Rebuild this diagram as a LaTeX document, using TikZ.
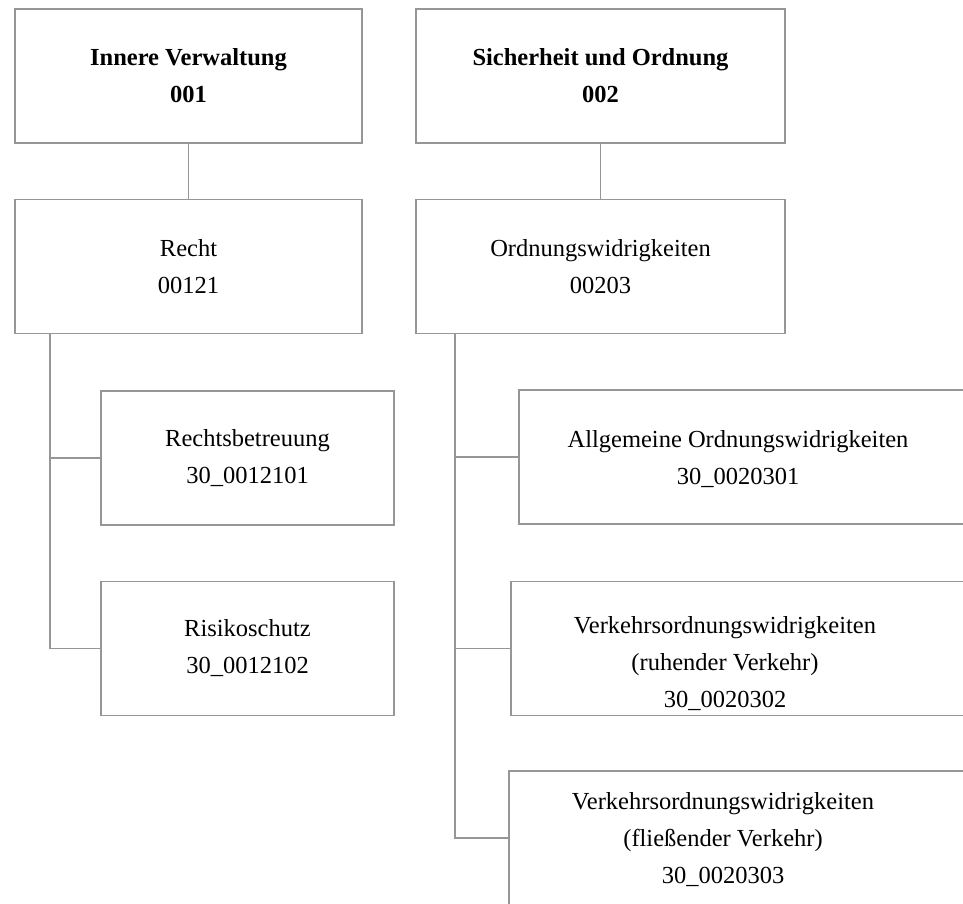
\documentclass[tikz,border=0pt]{standalone}
\usepackage{fontspec}
\setmainfont{Liberation Serif}
\definecolor{linegray}{RGB}{150,150,150}

\begin{document}
\begin{tikzpicture}[x=1pt, y=-1pt,
    box/.style={draw=linegray, line width=1.7pt, rectangle, inner sep=0pt,
        align=center, minimum height=134pt, font=\fontsize{24.5}{37}\selectfont},
    txt/.style={align=center, inner sep=0pt, font=\fontsize{24.5}{37}\selectfont},
    link/.style={draw=linegray, line width=1.7pt}]
    \useasboundingbox (0,0) rectangle (963,903);
    \clip (0,0) rectangle (963,903);

    % Top level
    \node[box, minimum width=347pt] (iv) at (188.5,76) {\textbf{Innere Verwaltung}\\\textbf{001}};
    \node[box, minimum width=369pt] (so) at (600.5,76) {\textbf{Sicherheit und Ordnung}\\\textbf{002}};

    % Second level
    \node[box, minimum width=347pt] (recht) at (188.5,266.5) {Recht\\00121};
    \node[box, minimum width=369pt] (owi) at (600.5,266.5) {Ordnungswidrigkeiten\\00203};
    \draw[link] (iv) -- (recht);
    \draw[link] (so) -- (owi);

    % Products Recht
    \node[box, minimum width=293pt] (rb) at (247.5,458) {Rechtsbetreuung\\30\_0012101};
    \node[box, minimum width=293pt] (rs) at (247.5,648.5) {Risikoschutz\\30\_0012102};
    \coordinate (tl) at (50,333);
    \draw[link] (tl) |- (rb.west);
    \draw[link] (tl) |- (rs.west);

    % Products Ordnungswidrigkeiten (open to the right)
    \node[box, anchor=west, minimum width=500pt] (aow) at (518,457) {};
    \node[txt] (aowt) at (738,459) {Allgemeine Ordnungswidrigkeiten\\30\_0020301};
    \node[box, anchor=west, minimum width=500pt] (vrv) at (510,648.5) {};
    \node[txt] (vrvt) at (725,664) {Verkehrsordnungswidrigkeiten\\(ruhender Verkehr)\\30\_0020302};
    \node[box, anchor=west, minimum width=500pt] (vfv) at (508,838) {};
    \node[txt] (vfvt) at (723,840) {Verkehrsordnungswidrigkeiten\\(fließender Verkehr)\\30\_0020303};
    \coordinate (tr) at (455,333);
    \draw[link] (tr) |- (aow.west);
    \draw[link] (tr) |- (vrv.west);
    \draw[link] (tr) |- (vfv.west);
\end{tikzpicture}
\end{document}
